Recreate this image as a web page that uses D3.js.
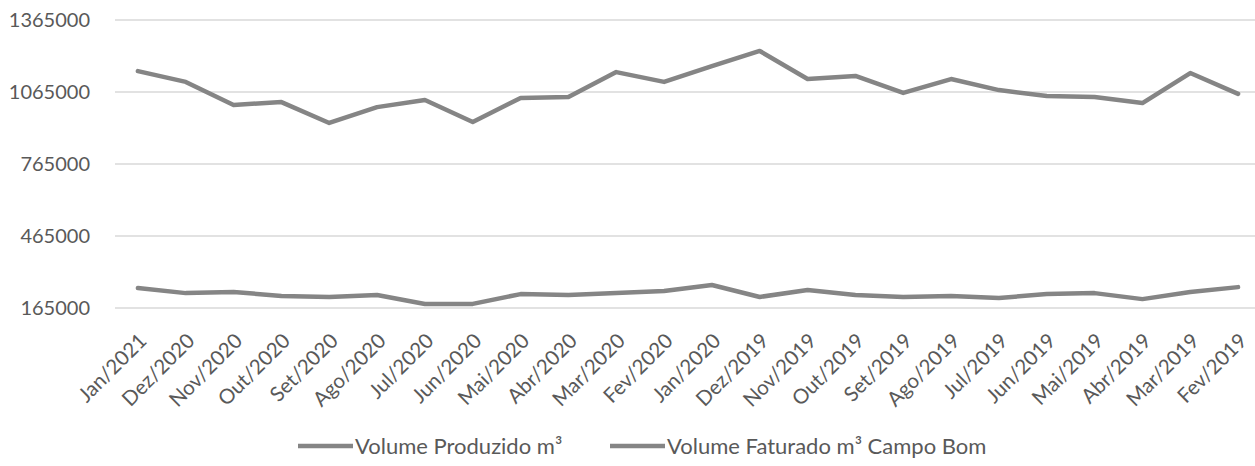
<!DOCTYPE html>
<html>
<head>
<meta charset="utf-8">
<script src="https://cdn.jsdelivr.net/npm/d3@7"></script>
<style>
  body { margin: 0; background: #fff; }
  svg { display: block; font-family: Lato, 'Open Sans', sans-serif; }
</style>
</head>
<body>
<svg id="chart"></svg>
<script>
const months = ['Jan/2021', 'Dez/2020', 'Nov/2020', 'Out/2020', 'Set/2020', 'Ago/2020', 'Jul/2020',
  'Jun/2020', 'Mai/2020', 'Abr/2020', 'Mar/2020', 'Fev/2020', 'Jan/2020', 'Dez/2019', 'Nov/2019',
  'Out/2019', 'Set/2019', 'Ago/2019', 'Jul/2019', 'Jun/2019', 'Mai/2019', 'Abr/2019', 'Mar/2019', 'Fev/2019'];

const produzido = [1152000, 1107000, 1011000, 1023000, 936000, 1002000, 1032000, 940000, 1040000,
  1044000, 1148000, 1107000, 1173000, 1236000, 1119000, 1132000, 1061000, 1119000, 1073000,
  1048000, 1044000, 1019000, 1144000, 1057000];

const faturado = [248000, 227000, 232000, 215000, 211000, 219000, 182000, 182000, 223000, 219000,
  227000, 236000, 261000, 211000, 240000, 219000, 211000, 215000, 207000, 223000, 227000, 202000,
  232000, 252000];

const yTicks = [165000, 465000, 765000, 1065000, 1365000];
const seriesNames = ['Volume Produzido m³', 'Volume Faturado m³ Campo Bom'];

const width = 1255;
const height = 466;
const lineColor = '#858585';
const textColor = '#595959';

const svg = d3.select('#chart')
  .attr('width', width)
  .attr('height', height);

const x = d3.scalePoint()
  .domain(months)
  .range([114, 1262])
  .padding(0.5);

const y = d3.scaleLinear()
  .domain([165000, 1365000])
  .range([308, 20]);

// grid lines
svg.append('g')
  .selectAll('line')
  .data(yTicks)
  .join('line')
  .attr('x1', 115)
  .attr('x2', width)
  .attr('y1', d => y(d))
  .attr('y2', d => y(d))
  .attr('stroke', '#d9d9d9')
  .attr('stroke-width', 1.5);

// y labels
svg.append('g')
  .selectAll('text')
  .data(yTicks)
  .join('text')
  .attr('x', 90)
  .attr('y', d => y(d))
  .attr('dy', '0.35em')
  .attr('text-anchor', 'end')
  .attr('fill', textColor)
  .attr('font-size', 20)
  .text(d => d);

// x labels
svg.append('g')
  .selectAll('text')
  .data(months)
  .join('text')
  .attr('transform', d => `translate(${x(d) + 5},${337}) rotate(-45)`)
  .attr('dy', '0.35em')
  .attr('text-anchor', 'end')
  .attr('fill', textColor)
  .attr('font-size', 20.5)
  .text(d => d);

const line = d3.line()
  .x((d, i) => x(months[i]))
  .y(d => y(d));

[produzido, faturado].forEach(values => {
  svg.append('path')
    .datum(values)
    .attr('fill', 'none')
    .attr('stroke', lineColor)
    .attr('stroke-width', 4.5)
    .attr('stroke-linejoin', 'round')
    .attr('stroke-linecap', 'round')
    .attr('d', line);
});

// legend
const legendX = [298, 610];
const legend = svg.append('g')
  .selectAll('g')
  .data(seriesNames)
  .join('g')
  .attr('transform', (d, i) => `translate(${legendX[i]},446)`);

legend.append('line')
  .attr('x1', 0)
  .attr('x2', 55)
  .attr('stroke', lineColor)
  .attr('stroke-width', 4.5);

legend.append('text')
  .attr('x', 57)
  .attr('dy', '0.35em')
  .attr('fill', textColor)
  .attr('font-size', 22)
  .text(d => d);
</script>
</body>
</html>
